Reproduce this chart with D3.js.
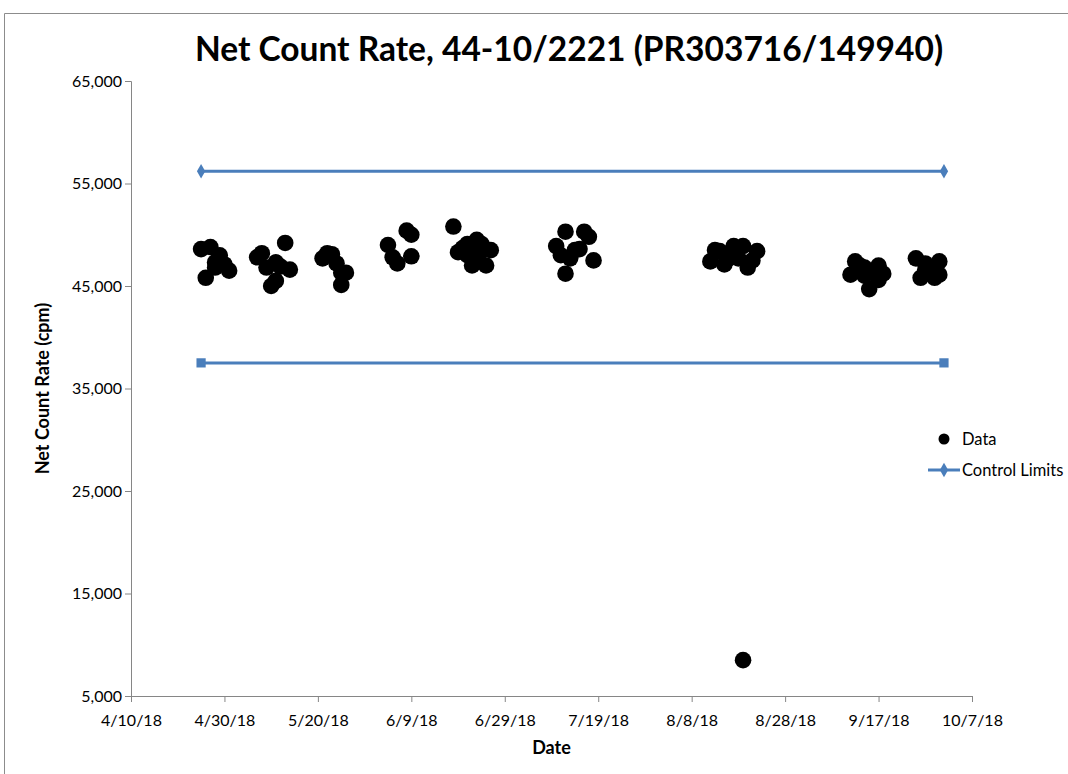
<!DOCTYPE html>
<html>
<head>
<meta charset="utf-8">
<script src="https://cdn.jsdelivr.net/npm/d3@7"></script>
<style>
  body { margin: 0; background: #fff; }
  svg { font-family: Lato, "Open Sans", sans-serif; }
</style>
</head>
<body>
<div id="viz"></div>
<script>
const width = 1068;
const height = 774;
const margin = {top: 81, right: 96, bottom: 78, left: 131};

// data
const dataDates = [
  '4/25/18', '4/27/18', '4/26/18', '4/29/18', '4/28/18', '4/28/18', '4/30/18', '5/1/18',
  '5/7/18', '5/8/18', '5/9/18', '5/10/18', '5/11/18', '5/11/18', '5/12/18', '5/13/18', '5/14/18',
  '5/21/18', '5/22/18', '5/23/18', '5/24/18', '5/25/18', '5/25/18', '5/26/18',
  '6/4/18', '6/5/18', '6/6/18', '6/8/18', '6/9/18', '6/9/18',
  '6/18/18', '6/19/18', '6/20/18', '6/21/18', '6/21/18', '6/22/18', '6/22/18', '6/23/18', '6/23/18',
  '6/24/18', '6/24/18', '6/25/18', '6/26/18',
  '7/10/18', '7/11/18', '7/12/18', '7/12/18', '7/13/18', '7/14/18', '7/15/18', '7/16/18', '7/17/18', '7/18/18',
  '8/12/18', '8/13/18', '8/14/18', '8/15/18', '8/16/18', '8/17/18', '8/18/18', '8/19/18', '8/20/18',
  '8/21/18', '8/22/18', '8/19/18',
  '9/11/18', '9/12/18', '9/13/18', '9/14/18', '9/14/18', '9/15/18', '9/16/18', '9/17/18', '9/17/18', '9/18/18',
  '9/25/18', '9/26/18', '9/27/18', '9/27/18', '9/28/18', '9/29/18', '9/30/18', '9/30/18'
];
const dataValues = [
  48600, 48800, 45800, 48000, 47300, 46800, 47100, 46500,
  47800, 48200, 46800, 45000, 47300, 45500, 46900, 49200, 46600,
  47700, 48200, 48100, 47200, 46300, 45100, 46300,
  49000, 47800, 47200, 50400, 50000, 47900,
  50800, 48300, 48700, 49100, 48000, 48500, 47000, 47900, 49500,
  49100, 48400, 47000, 48500,
  48900, 48000, 46200, 50300, 47700, 48500, 48600, 50300, 49800, 47500,
  47400, 48500, 48400, 47100, 47700, 48900, 47700, 48900, 46800,
  47500, 48400, 8500,
  46100, 47400, 47000, 46800, 46000, 44700, 46500, 47000, 45600, 46200,
  47700, 45800, 46600, 47200, 46400, 45800, 46100, 47400
];

const limitDates = ['4/25/18', '10/1/18'];
const upperLimit = [56200, 56200];
const lowerLimit = [37500, 37500];

const xTickLabels = ['4/10/18', '4/30/18', '5/20/18', '6/9/18', '6/29/18', '7/19/18',
  '8/8/18', '8/28/18', '9/17/18', '10/7/18'];
const yTickValues = [5000, 15000, 25000, 35000, 45000, 55000, 65000];

const lineColor = '#4a7ebb';
const axisColor = '#868686';

const parse = d3.timeParse('%m/%d/%y');
const points = dataDates.map((d, i) => ({date: parse(d), value: dataValues[i]}));
const xTicks = xTickLabels.map(parse);

const svg = d3.select('#viz')
  .append('svg')
    .attr('width', width)
    .attr('height', height);

// outer chart frame (cut off by the picture)
svg.append('path')
  .attr('d', `M4.5,${height} V13.5 H${width}`)
  .attr('fill', 'none')
  .attr('stroke', '#8c8c8c')
  .attr('stroke-width', 1);

const xScale = d3.scaleTime()
  .domain([xTicks[0], xTicks[xTicks.length - 1]])
  .range([margin.left, width - margin.right]);

const yScale = d3.scaleLinear()
  .domain([5000, 65000])
  .range([height - margin.bottom, margin.top]);

// x axis
const xAxis = svg.append('g')
  .attr('transform', `translate(0, ${height - margin.bottom})`)
  .call(d3.axisBottom(xScale)
    .tickValues(xTicks)
    .tickSize(6)
    .tickFormat((d, i) => xTickLabels[i]));
xAxis.select('.domain').attr('stroke', axisColor);
xAxis.selectAll('.tick line').attr('stroke', axisColor);
xAxis.selectAll('.tick text')
  .attr('dy', 0)
  .attr('y', 30)
  .attr('fill', '#000')
  .style('font-size', '16px')
  .style('font-family', 'Lato, sans-serif');

// y axis
const yAxis = svg.append('g')
  .attr('transform', `translate(${margin.left}, 0)`)
  .call(d3.axisLeft(yScale)
    .tickValues(yTickValues)
    .tickSize(6)
    .tickFormat(d3.format(',')));
yAxis.select('.domain').attr('stroke', axisColor);
yAxis.selectAll('.tick line').attr('stroke', axisColor);
yAxis.selectAll('.tick text')
  .attr('x', -9)
  .attr('fill', '#000')
  .style('font-size', '16px')
  .style('font-family', 'Lato, sans-serif');

// control limits
const limitLine = d3.line()
  .x((d, i) => xScale(parse(limitDates[i])))
  .y(d => yScale(d));

[upperLimit, lowerLimit].forEach((series, s) => {
  svg.append('path')
    .attr('d', limitLine(series))
    .attr('fill', 'none')
    .attr('stroke', lineColor)
    .attr('stroke-width', 3);
  svg.append('g').selectAll('path')
    .data(series)
    .join('path')
      .attr('transform', (d, i) => `translate(${xScale(parse(limitDates[i]))}, ${yScale(d)})`)
      .attr('d', d3.symbol().type(s === 0 ? d3.symbolDiamond : d3.symbolSquare).size(s === 0 ? 60 : 85))
      .attr('fill', lineColor);
});

// data points
svg.append('g').selectAll('circle')
  .data(points)
  .join('circle')
    .attr('cx', d => xScale(d.date))
    .attr('cy', d => yScale(d.value))
    .attr('r', 8.3)
    .attr('fill', '#000');

// title
svg.append('text')
  .attr('x', 569)
  .attr('y', 61)
  .attr('text-anchor', 'middle')
  .style('font-size', '33.5px')
  .style('font-weight', 'bold')
  .text('Net Count Rate, 44-10/2221 (PR303716/149940)');

// axis titles
svg.append('text')
  .attr('x', (margin.left + width - margin.right) / 2)
  .attr('y', 754)
  .attr('text-anchor', 'middle')
  .style('font-size', '18px')
  .style('font-weight', 'bold')
  .text('Date');

svg.append('text')
  .attr('transform', `translate(49, ${(margin.top + height - margin.bottom) / 2}) rotate(-90)`)
  .attr('text-anchor', 'middle')
  .style('font-size', '18px')
  .style('font-weight', 'bold')
  .text('Net Count Rate (cpm)');

// legend
const legend = svg.append('g').attr('transform', 'translate(944, 0)');
legend.append('circle')
  .attr('cx', 0).attr('cy', 439).attr('r', 5.5).attr('fill', '#000');
legend.append('text')
  .attr('x', 18).attr('y', 445)
  .style('font-size', '16.5px')
  .text('Data');
legend.append('line')
  .attr('x1', -16).attr('x2', 16).attr('y1', 470).attr('y2', 470)
  .attr('stroke', lineColor).attr('stroke-width', 3);
legend.append('path')
  .attr('transform', 'translate(0, 470)')
  .attr('d', d3.symbol().type(d3.symbolDiamond).size(60))
  .attr('fill', lineColor);
legend.append('text')
  .attr('x', 18).attr('y', 476)
  .style('font-size', '16.5px')
  .text('Control Limits');
</script>
</body>
</html>
